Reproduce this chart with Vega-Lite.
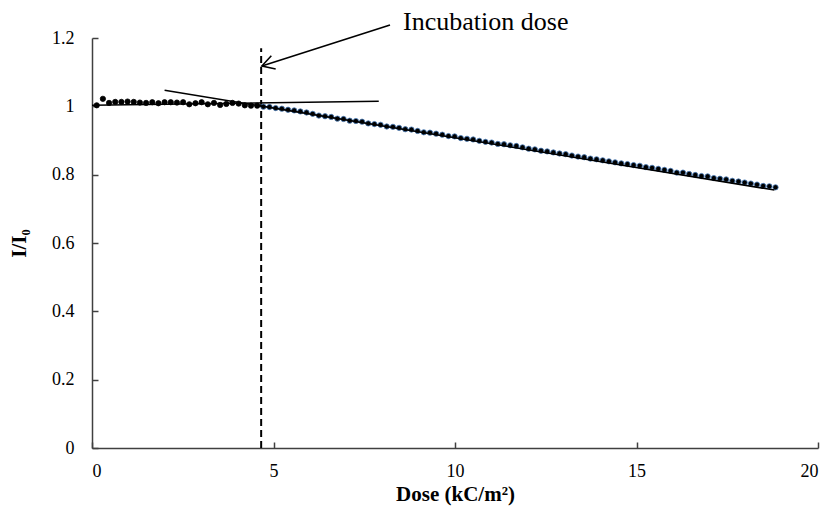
{
  "$schema": "https://vega.github.io/schema/vega-lite/v6.json",
  "width": 726,
  "height": 410,
  "autosize": {"type": "none"},
  "padding": {"left": 92, "top": 38, "right": 14, "bottom": 58},
  "background": "white",
  "config": {
    "view": {"stroke": null},
    "font": "Liberation Serif, Times New Roman, serif",
    "axis": {
      "labelFont": "Liberation Serif, Times New Roman, serif",
      "titleFont": "Liberation Serif, Times New Roman, serif",
      "labelFontSize": 18,
      "labelColor": "#000000",
      "titleColor": "#000000",
      "titleFontSize": 21,
      "titleFontWeight": "bold",
      "domainColor": "#404040",
      "domainWidth": 1.5,
      "tickColor": "#404040",
      "tickWidth": 1.5,
      "tickSize": -6,
      "grid": false
    }
  },
  "datasets": {
    "points": [
      {"dose": 0.13, "ratio": 1.003, "phase": "before"},
      {"dose": 0.30, "ratio": 1.022, "phase": "before"},
      {"dose": 0.47, "ratio": 1.010, "phase": "before"},
      {"dose": 0.64, "ratio": 1.013, "phase": "before"},
      {"dose": 0.81, "ratio": 1.013, "phase": "before"},
      {"dose": 0.98, "ratio": 1.014, "phase": "before"},
      {"dose": 1.15, "ratio": 1.013, "phase": "before"},
      {"dose": 1.32, "ratio": 1.011, "phase": "before"},
      {"dose": 1.49, "ratio": 1.010, "phase": "before"},
      {"dose": 1.66, "ratio": 1.012, "phase": "before"},
      {"dose": 1.83, "ratio": 1.009, "phase": "before"},
      {"dose": 2.00, "ratio": 1.012, "phase": "before"},
      {"dose": 2.17, "ratio": 1.012, "phase": "before"},
      {"dose": 2.34, "ratio": 1.011, "phase": "before"},
      {"dose": 2.51, "ratio": 1.012, "phase": "before"},
      {"dose": 2.68, "ratio": 1.006, "phase": "before"},
      {"dose": 2.85, "ratio": 1.009, "phase": "before"},
      {"dose": 3.02, "ratio": 1.012, "phase": "before"},
      {"dose": 3.19, "ratio": 1.006, "phase": "before"},
      {"dose": 3.36, "ratio": 1.010, "phase": "before"},
      {"dose": 3.53, "ratio": 1.004, "phase": "before"},
      {"dose": 3.70, "ratio": 1.007, "phase": "before"},
      {"dose": 3.87, "ratio": 1.010, "phase": "before"},
      {"dose": 4.04, "ratio": 1.008, "phase": "before"},
      {"dose": 4.21, "ratio": 1.003, "phase": "before"},
      {"dose": 4.38, "ratio": 1.002, "phase": "before"},
      {"dose": 4.55, "ratio": 1.002, "phase": "before"},
      {"dose": 4.72, "ratio": 0.999, "phase": "after"},
      {"dose": 4.89, "ratio": 0.998, "phase": "after"},
      {"dose": 5.06, "ratio": 0.995, "phase": "after"},
      {"dose": 5.23, "ratio": 0.993, "phase": "after"},
      {"dose": 5.40, "ratio": 0.990, "phase": "after"},
      {"dose": 5.57, "ratio": 0.988, "phase": "after"},
      {"dose": 5.74, "ratio": 0.985, "phase": "after"},
      {"dose": 5.91, "ratio": 0.982, "phase": "after"},
      {"dose": 6.08, "ratio": 0.978, "phase": "after"},
      {"dose": 6.25, "ratio": 0.973, "phase": "after"},
      {"dose": 6.42, "ratio": 0.971, "phase": "after"},
      {"dose": 6.59, "ratio": 0.969, "phase": "after"},
      {"dose": 6.76, "ratio": 0.964, "phase": "after"},
      {"dose": 6.93, "ratio": 0.963, "phase": "after"},
      {"dose": 7.10, "ratio": 0.958, "phase": "after"},
      {"dose": 7.27, "ratio": 0.957, "phase": "after"},
      {"dose": 7.44, "ratio": 0.955, "phase": "after"},
      {"dose": 7.61, "ratio": 0.950, "phase": "after"},
      {"dose": 7.78, "ratio": 0.948, "phase": "after"},
      {"dose": 7.95, "ratio": 0.946, "phase": "after"},
      {"dose": 8.12, "ratio": 0.941, "phase": "after"},
      {"dose": 8.29, "ratio": 0.940, "phase": "after"},
      {"dose": 8.46, "ratio": 0.937, "phase": "after"},
      {"dose": 8.63, "ratio": 0.933, "phase": "after"},
      {"dose": 8.80, "ratio": 0.932, "phase": "after"},
      {"dose": 8.97, "ratio": 0.928, "phase": "after"},
      {"dose": 9.14, "ratio": 0.924, "phase": "after"},
      {"dose": 9.31, "ratio": 0.923, "phase": "after"},
      {"dose": 9.48, "ratio": 0.920, "phase": "after"},
      {"dose": 9.65, "ratio": 0.917, "phase": "after"},
      {"dose": 9.82, "ratio": 0.913, "phase": "after"},
      {"dose": 9.99, "ratio": 0.912, "phase": "after"},
      {"dose": 10.16, "ratio": 0.907, "phase": "after"},
      {"dose": 10.33, "ratio": 0.905, "phase": "after"},
      {"dose": 10.50, "ratio": 0.903, "phase": "after"},
      {"dose": 10.67, "ratio": 0.899, "phase": "after"},
      {"dose": 10.84, "ratio": 0.896, "phase": "after"},
      {"dose": 11.01, "ratio": 0.894, "phase": "after"},
      {"dose": 11.18, "ratio": 0.890, "phase": "after"},
      {"dose": 11.35, "ratio": 0.889, "phase": "after"},
      {"dose": 11.52, "ratio": 0.886, "phase": "after"},
      {"dose": 11.69, "ratio": 0.884, "phase": "after"},
      {"dose": 11.86, "ratio": 0.880, "phase": "after"},
      {"dose": 12.03, "ratio": 0.876, "phase": "after"},
      {"dose": 12.20, "ratio": 0.874, "phase": "after"},
      {"dose": 12.37, "ratio": 0.870, "phase": "after"},
      {"dose": 12.54, "ratio": 0.868, "phase": "after"},
      {"dose": 12.71, "ratio": 0.865, "phase": "after"},
      {"dose": 12.88, "ratio": 0.862, "phase": "after"},
      {"dose": 13.05, "ratio": 0.860, "phase": "after"},
      {"dose": 13.22, "ratio": 0.856, "phase": "after"},
      {"dose": 13.39, "ratio": 0.853, "phase": "after"},
      {"dose": 13.56, "ratio": 0.851, "phase": "after"},
      {"dose": 13.73, "ratio": 0.847, "phase": "after"},
      {"dose": 13.90, "ratio": 0.845, "phase": "after"},
      {"dose": 14.07, "ratio": 0.842, "phase": "after"},
      {"dose": 14.24, "ratio": 0.839, "phase": "after"},
      {"dose": 14.41, "ratio": 0.836, "phase": "after"},
      {"dose": 14.58, "ratio": 0.833, "phase": "after"},
      {"dose": 14.75, "ratio": 0.831, "phase": "after"},
      {"dose": 14.92, "ratio": 0.828, "phase": "after"},
      {"dose": 15.09, "ratio": 0.826, "phase": "after"},
      {"dose": 15.26, "ratio": 0.822, "phase": "after"},
      {"dose": 15.43, "ratio": 0.820, "phase": "after"},
      {"dose": 15.60, "ratio": 0.817, "phase": "after"},
      {"dose": 15.77, "ratio": 0.814, "phase": "after"},
      {"dose": 15.94, "ratio": 0.811, "phase": "after"},
      {"dose": 16.11, "ratio": 0.806, "phase": "after"},
      {"dose": 16.28, "ratio": 0.806, "phase": "after"},
      {"dose": 16.45, "ratio": 0.802, "phase": "after"},
      {"dose": 16.62, "ratio": 0.799, "phase": "after"},
      {"dose": 16.79, "ratio": 0.796, "phase": "after"},
      {"dose": 16.96, "ratio": 0.795, "phase": "after"},
      {"dose": 17.13, "ratio": 0.790, "phase": "after"},
      {"dose": 17.30, "ratio": 0.788, "phase": "after"},
      {"dose": 17.47, "ratio": 0.786, "phase": "after"},
      {"dose": 17.64, "ratio": 0.782, "phase": "after"},
      {"dose": 17.81, "ratio": 0.780, "phase": "after"},
      {"dose": 17.98, "ratio": 0.777, "phase": "after"},
      {"dose": 18.15, "ratio": 0.774, "phase": "after"},
      {"dose": 18.32, "ratio": 0.771, "phase": "after"},
      {"dose": 18.49, "ratio": 0.767, "phase": "after"},
      {"dose": 18.66, "ratio": 0.766, "phase": "after"},
      {"dose": 18.83, "ratio": 0.763, "phase": "after"}
    ],
    "lines": [
      {"line": "fit", "o": 1, "dose": 2.0, "ratio": 1.047},
      {"line": "fit", "o": 2, "dose": 18.8, "ratio": 0.755},
      {"line": "flat", "o": 1, "dose": 0.0, "ratio": 1.003},
      {"line": "flat", "o": 2, "dose": 7.9, "ratio": 1.015},
      {"line": "shaft", "o": 1, "dose": 8.21, "ratio": 1.238},
      {"line": "shaft", "o": 2, "dose": 4.68, "ratio": 1.118},
      {"line": "head", "o": 1, "dose": 5.06, "ratio": 1.109},
      {"line": "head", "o": 2, "dose": 4.68, "ratio": 1.118},
      {"line": "head", "o": 3, "dose": 4.94, "ratio": 1.148}
    ],
    "marker": [
      {"dose": 4.66, "ratio": 0, "ratio2": 1.17}
    ],
    "note": [
      {"dose": 8.57, "ratio": 1.222, "label": "Incubation dose"}
    ]
  },
  "layer": [
    {
      "data": {"name": "marker"},
      "mark": {"type": "rule", "color": "#000000", "strokeWidth": 2, "strokeDash": [7, 4]},
      "encoding": {
        "x": {"field": "dose", "type": "quantitative", "scale": {"domain": [0, 20]},
          "axis": {"values": [0, 5, 10, 15, 20], "title": "Dose (kC/m²)", "labelPadding": 20, "titlePadding": 3}},
        "y": {"field": "ratio", "type": "quantitative", "scale": {"domain": [0, 1.2]},
          "axis": {"values": [0, 0.2, 0.4, 0.6, 0.8, 1, 1.2], "labelExpr": "format(datum.value, '~g')", "title": "I/I₀", "labelPadding": 24, "titlePadding": 22}},
        "y2": {"field": "ratio2"}
      }
    },
    {
      "data": {"name": "points"},
      "mark": {"type": "point", "filled": true, "size": 28, "strokeWidth": 0.8, "opacity": 1},
      "encoding": {
        "x": {"field": "dose", "type": "quantitative"},
        "y": {"field": "ratio", "type": "quantitative"},
        "fill": {"value": "#000000"},
        "stroke": {"field": "phase", "type": "nominal", "scale": {"domain": ["before", "after"], "range": ["#000000", "#4a7ebb"]}, "legend": null}
      }
    },
    {
      "data": {"name": "lines"},
      "mark": {"type": "line", "color": "#000000", "strokeWidth": 1.6},
      "encoding": {
        "x": {"field": "dose", "type": "quantitative"},
        "y": {"field": "ratio", "type": "quantitative"},
        "detail": {"field": "line"},
        "order": {"field": "o"}
      }
    },
    {
      "data": {"name": "note"},
      "mark": {"type": "text", "align": "left", "baseline": "alphabetic", "font": "Liberation Serif, Times New Roman, serif", "fontSize": 26, "color": "#000000"},
      "encoding": {
        "x": {"field": "dose", "type": "quantitative"},
        "y": {"field": "ratio", "type": "quantitative"},
        "text": {"field": "label"}
      }
    }
  ]
}
